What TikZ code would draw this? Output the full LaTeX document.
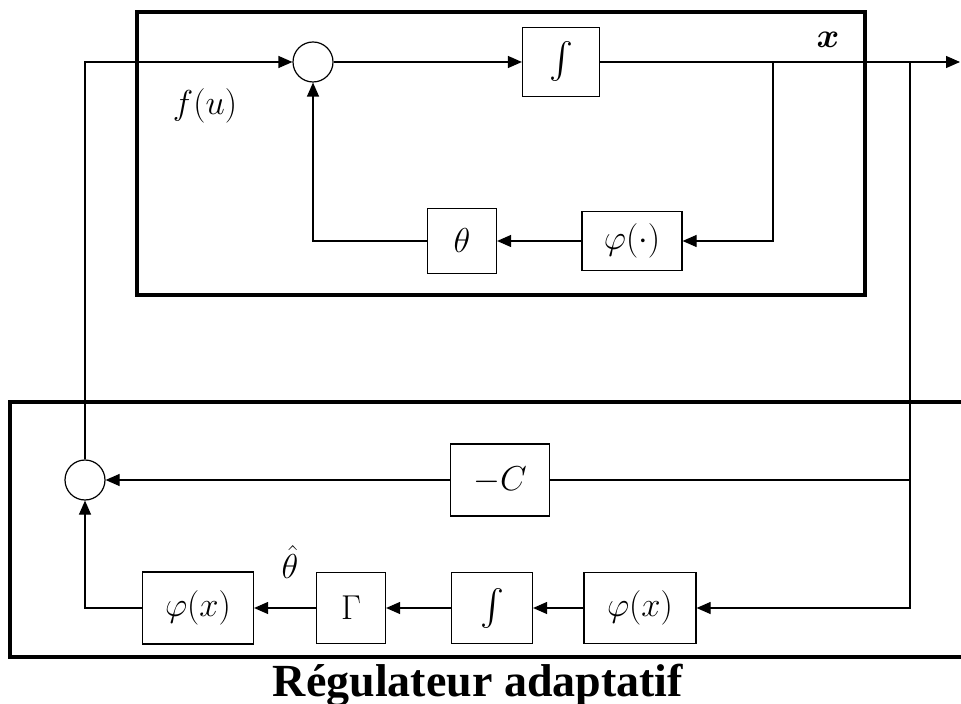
\documentclass[tikz,border=0pt]{standalone}
\usepackage{amsmath,amssymb,bm}
\usepackage{fontspec}
\setmainfont{Liberation Serif}
\usetikzlibrary{arrows.meta}

\begin{document}
\begin{tikzpicture}[>={Triangle[length=7pt,width=6pt]},x=0.5pt,y=-0.5pt,
  blk/.style={draw,line width=0.6pt,inner sep=0pt,font=\fontsize{18}{21}\selectfont},
  sumc/.style={draw,circle,line width=0.6pt,minimum size=20pt,inner sep=0pt},
  lbl/.style={font=\fontsize{18}{21}\selectfont,inner sep=1pt},
  every path/.style={line width=0.6pt}]
\useasboundingbox (0,0) rectangle (961,704);
% process
\draw[line width=1.6pt] (137,12) rectangle (865,295);
\node[sumc] (sumA) at (313,62) {};
\node[blk,minimum width=38.5pt,minimum height=34.5pt] (intA) at (561,62) {$\int$};
\node[blk,minimum width=50pt,minimum height=29.5pt] (phiA) at (632,241) {$\varphi(\cdot)$};
\node[blk,minimum width=34.5pt,minimum height=32.5pt] (thA) at (462,241) {$\theta$};
\coordinate (brA) at (773,62);
\coordinate (jn) at (910,62);
\coordinate (out) at (960,62);
\node[lbl] (xl) at (828,40) {$\bm{x}$};
\node[lbl] (fu) at (205,106) {$f(u)$};
% regulator
\draw[line width=1.6pt] (961,402) -- (10,402) -- (10,657) -- (961,657);
\node[sumc] (sumB) at (85,480) {};
\node[blk,minimum width=49.5pt,minimum height=36pt] (negC) at (500,480) {$-C$};
\node[blk,minimum width=55.5pt,minimum height=36pt] (phiB) at (198,608) {$\varphi(x)$};
\node[blk,minimum width=34.5pt,minimum height=35.5pt] (gam) at (351,608) {$\Gamma$};
\node[blk,minimum width=40.5pt,minimum height=35.5pt] (intB) at (492,608) {$\int$};
\node[blk,minimum width=56pt,minimum height=35.5pt] (phiC) at (640,608) {$\varphi(x)$};
\node[lbl] (thh) at (290,562) {$\hat{\theta}$};
\node[font=\fontsize{23}{27}\selectfont\bfseries] (cap) at (478,685) {Régulateur adaptatif};
% connectors
\draw[->] (sumB.north) |- (sumA.west);
\draw[->] (sumA.east) -- (intA.west);
\draw[->] (intA.east) -- (out);
\draw[->] (brA) |- (phiA.east);
\draw[->] (phiA.west) -- (thA.east);
\draw[->] (thA.west) -| (sumA.south);
\draw (jn) |- (negC.east);
\draw[->] (negC.west) -- (sumB.east);
\draw[->] (jn) |- (phiC.east);
\draw[->] (phiC.west) -- (intB.east);
\draw[->] (intB.west) -- (gam.east);
\draw[->] (gam.west) -- (phiB.east);
\draw[->] (phiB.west) -| (sumB.south);
\end{tikzpicture}
\end{document}
